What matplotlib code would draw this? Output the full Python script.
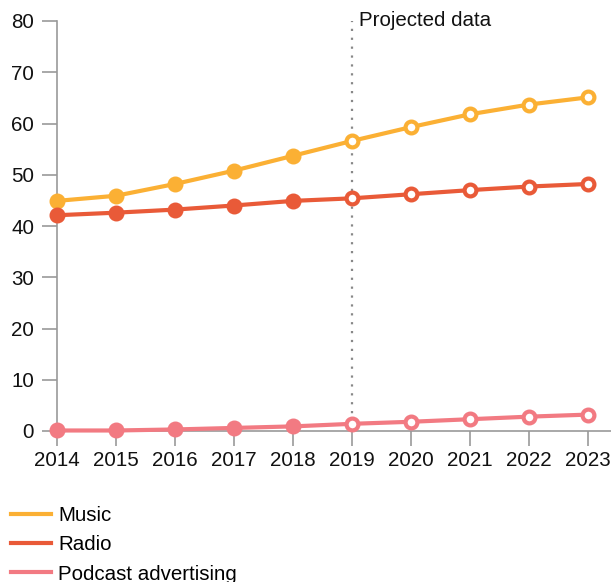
import matplotlib
matplotlib.use("Agg")
import matplotlib.pyplot as plt
from matplotlib.lines import Line2D

plt.rcParams['font.family'] = ['Liberation Sans', 'DejaVu Sans']

years = [2014, 2015, 2016, 2017, 2018, 2019, 2020, 2021, 2022, 2023]
music = [44.9, 45.9, 48.2, 50.8, 53.7, 56.6, 59.3, 61.8, 63.7, 65.1]
radio = [42.1, 42.6, 43.2, 44.0, 44.9, 45.4, 46.2, 47.0, 47.7, 48.2]
podcast = [0.1, 0.1, 0.3, 0.6, 0.9, 1.4, 1.8, 2.3, 2.8, 3.2]
series_names = ["Music", "Radio", "Podcast advertising"]
colors = ["#FBB034", "#E95A38", "#F27A82"]
projection_start = 2019
yticks = [0, 10, 20, 30, 40, 50, 60, 70, 80]

FS = 14.8

fig = plt.figure(figsize=(6.11, 5.82), dpi=100)
ax = fig.add_axes([57/611, 1-431/582, 1-57/611, (431-21)/582])

ax.axvline(projection_start, color="#888888", lw=1.6, ls=(0, (1, 3)), ymin=0, ymax=1.0, zorder=1, clip_on=False)
ax.text(projection_start + 0.12, 80, "Projected data", fontsize=FS, color="#111111", va="center", ha="left")

split = years.index(projection_start)
for vals, col in zip([music, radio, podcast], colors):
    ax.plot(years, vals, color=col, lw=3, zorder=3, clip_on=False, solid_capstyle="round")
    ax.plot(years[:split], vals[:split], ls="none", marker="o", ms=10, mew=1.5,
            mfc=col, mec=col, zorder=4, clip_on=False)
    ax.plot(years[split:], vals[split:], ls="none", marker="o", ms=8.5, mew=3,
            mfc="white", mec=col, zorder=4, clip_on=False)

ax.set_xlim(2014, 2014 + (611-57)/59)
ax.set_ylim(0, 80)
ax.set_xticks(years)
ax.set_xticklabels([str(y) for y in years])
ax.set_yticks(yticks)
ax.set_yticklabels([str(v) for v in yticks])
for s in ["top", "right"]:
    ax.spines[s].set_visible(False)
for s in ["left", "bottom"]:
    ax.spines[s].set_color("#999999")
    ax.spines[s].set_linewidth(1.2)
ax.tick_params(axis="both", colors="#999999", labelcolor="#111111", labelsize=FS,
               length=10.5, width=1.2)
ax.tick_params(axis="y", pad=6)
ax.tick_params(axis="x", pad=4)
ax.patch.set_visible(False)

handles = [Line2D([0], [0], color=c, lw=3) for c in colors]
fig.legend(handles, series_names, loc="upper left", bbox_to_anchor=(11/611, 1-506/582),
           frameon=False, fontsize=FS, handlelength=1.95, handletextpad=0.35,
           labelspacing=0.5, borderpad=0, borderaxespad=0)

fig.savefig("out.png", dpi=100)
